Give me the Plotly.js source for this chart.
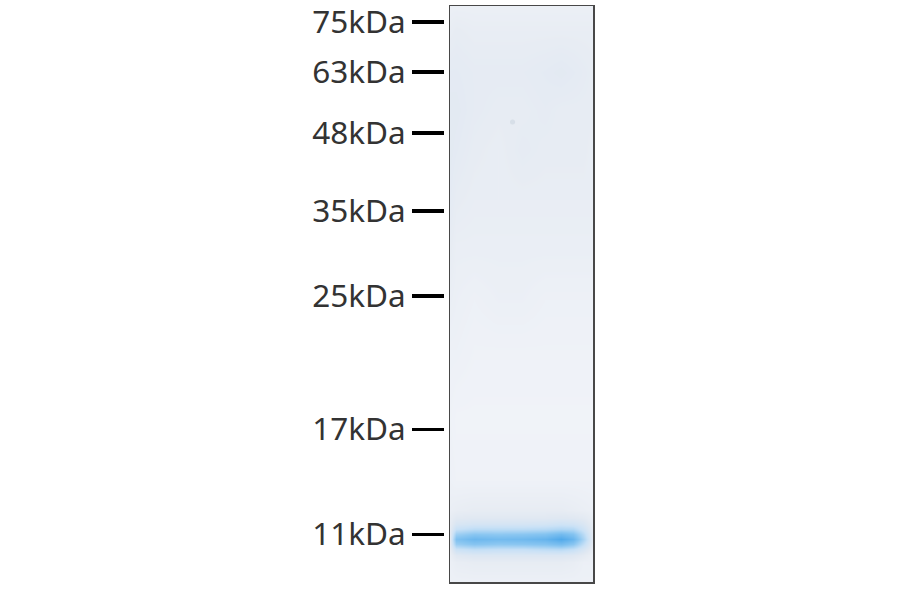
<!DOCTYPE html>
<html>
<head>
<meta charset="utf-8">
<script src="https://cdn.plot.ly/plotly-3.0.1.min.js"></script>
<style>html,body{margin:0;padding:0;background:#fff}#chart{width:900px;height:594px}</style>
</head>
<body>
<div id="chart"></div>
<script>
// Marker ladder: migration distance along the lane
const heavyMarkerLabels = ["75kDa", "63kDa", "48kDa", "35kDa", "25kDa"];
const heavyMarkerPositions = [22, 72, 133, 211, 296];
const lightMarkerLabels = ["17kDa", "11kDa"];
const lightMarkerPositions = [429, 534];

// Small specks of stain visible in the upper part of the lane
const speckColumn = [63];
const speckRow = [122];

// Lane densitometry grid: stain intensity (0 = clear gel, 1 = densest band)
const laneColumns = [0, 6, 24, 48, 72, 96, 112, 124, 134, 144];
const laneRows = [4, 30, 72, 110, 150, 200, 250, 300, 350, 420, 480, 510, 518, 524, 529, 534, 539, 544, 549, 555, 562, 584];
const stain = [
  [.05,.05,.05,.05,.05,.05,.05,.05,.05,.05],
  [.07,.08,.07,.07,.07,.07,.07,.07,.07,.07],
  [.10,.10,.09,.09,.09,.10,.11,.10,.09,.08],
  [.11,.11,.09,.08,.08,.09,.08,.08,.08,.08],
  [.11,.10,.08,.07,.09,.08,.08,.08,.08,.07],
  [.10,.08,.07,.07,.07,.07,.07,.07,.07,.07],
  [.08,.06,.06,.06,.06,.06,.06,.06,.06,.06],
  [.06,.05,.04,.05,.05,.04,.04,.04,.04,.04],
  [.04,.04,.03,.03,.03,.03,.03,.03,.03,.03],
  [.03,.02,.02,.02,.02,.02,.02,.02,.02,.02],
  [.04,.03,.03,.03,.03,.03,.03,.03,.03,.03],
  [.06,.07,.08,.08,.08,.08,.08,.07,.06,.05],
  [.08,.12,.13,.13,.13,.13,.14,.13,.11,.07],
  [.09,.19,.22,.22,.22,.23,.26,.24,.18,.08],
  [.10,.30,.36,.36,.36,.38,.42,.40,.26,.09],
  [.11,.50,.60,.58,.60,.64,.74,.64,.38,.09],
  [.11,.66,.78,.74,.76,.82,.95,.80,.46,.09],
  [.10,.52,.62,.58,.60,.64,.72,.60,.34,.08],
  [.08,.28,.34,.32,.32,.36,.38,.32,.20,.07],
  [.06,.13,.16,.16,.16,.16,.16,.14,.10,.05],
  [.05,.07,.08,.08,.08,.08,.08,.07,.05,.05],
  [.04,.04,.04,.04,.04,.04,.04,.04,.04,.04]
];

const labelFont = {family: "Noto Sans, sans-serif", size: 31.5, color: "#333333"};

const data = [{
  type: "heatmap",
  x: laneColumns,
  y: laneRows,
  z: stain,
  xaxis: "x",
  yaxis: "y",
  zmin: 0,
  zmax: 1,
  zsmooth: "best",
  showscale: false,
  hoverinfo: "skip",
  colorscale: [
    [0, "#f3f5fa"],
    [0.08, "#e7ecf3"],
    [0.13, "#e0e8f2"],
    [0.3, "#c9e1f6"],
    [0.6, "#8ac6f1"],
    [1, "#49a5e9"]
  ]
}, {
  type: "scatter",
  mode: "markers",
  x: speckColumn,
  y: speckRow,
  xaxis: "x",
  yaxis: "y",
  marker: {size: 5, color: "#a9b6c6", opacity: 0.25},
  hoverinfo: "skip"
}, {
  type: "scatter", mode: "none", x: [0], y: [heavyMarkerPositions[0]], xaxis: "x2", yaxis: "y2", hoverinfo: "skip"
}, {
  type: "scatter", mode: "none", x: [0], y: [lightMarkerPositions[0]], xaxis: "x2", yaxis: "y3", hoverinfo: "skip"
}];

function markerAxis(vals, text, width) {
  return {
    domain: [0, 1],
    range: [594, 0],
    anchor: "free",
    position: 444 / 900,
    side: "left",
    tickmode: "array",
    tickvals: vals,
    ticktext: text,
    ticks: "outside",
    ticklen: 32,
    tickwidth: width,
    tickcolor: "#000000",
    ticklabelstandoff: 0,
    ticklabeloverflow: "allow",
    tickfont: labelFont,
    showline: false,
    showgrid: false,
    zeroline: false
  };
}

const frame = {
  showticklabels: false,
  ticks: "",
  showgrid: false,
  zeroline: false,
  showline: true,
  mirror: true,
  linecolor: "#484848",
  linewidth: 1.5
};

const layout = {
  width: 900,
  height: 594,
  margin: {l: 0, r: 0, t: 0, b: 0},
  paper_bgcolor: "#ffffff",
  plot_bgcolor: "rgba(0,0,0,0)",
  showlegend: false,
  xaxis: Object.assign({domain: [450 / 900, 593 / 900], range: [0, 144]}, frame),
  yaxis: Object.assign({domain: [1 - 582 / 594, 1 - 6 / 594], range: [582, 6]}, frame),
  xaxis2: {domain: [450 / 900, 593 / 900], range: [0, 144], visible: false, anchor: "y2"},
  yaxis2: markerAxis(heavyMarkerPositions, heavyMarkerLabels, 4),
  yaxis3: Object.assign(markerAxis(lightMarkerPositions, lightMarkerLabels, 3), {overlaying: "y2"})
};

Plotly.newPlot("chart", data, layout, {displayModeBar: false, staticPlot: true});
</script>
</body>
</html>
